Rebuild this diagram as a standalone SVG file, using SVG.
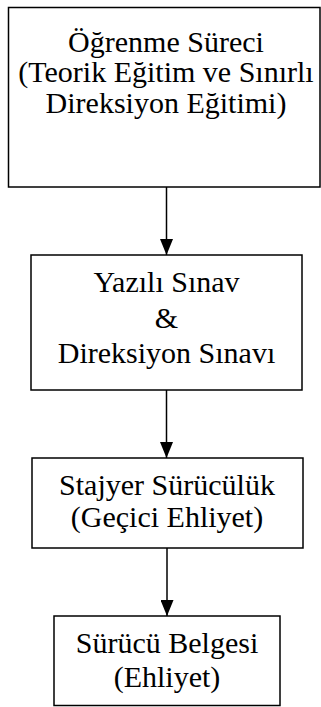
<svg xmlns="http://www.w3.org/2000/svg" width="321" height="707" viewBox="0 0 321 707">
  <style>
    .box { fill: #ffffff; stroke: #000000; stroke-width: 1.5; }
    .lbl { font-family: "Liberation Serif", "Times New Roman", serif; font-size: 30px; fill: #000000; text-anchor: middle; }
    .edge { stroke: #000000; stroke-width: 1.5; fill: none; marker-end: url(#head); }
  </style>
  <defs>
    <marker id="head" markerUnits="userSpaceOnUse" markerWidth="16" markerHeight="13" refX="16" refY="6.5" orient="auto">
      <path d="M0,0 L16,6.5 L0,13 Z" fill="#000000"/>
    </marker>
  </defs>
  <rect width="321" height="707" fill="#ffffff"/>

  <g id="connectors">
    <line class="edge" x1="166.5" y1="187" x2="166.5" y2="255"/>
    <line class="edge" x1="166.5" y1="390" x2="166.5" y2="458"/>
    <line class="edge" x1="167" y1="548" x2="167" y2="616"/>
  </g>

  <g id="ogrenme">
    <rect class="box" x="8.5" y="7.5" width="311.5" height="179.5"/>
    <text class="lbl" x="166" y="52">Öğrenme Süreci</text>
    <text class="lbl" x="166" y="82">(Teorik Eğitim ve Sınırlı</text>
    <text class="lbl" x="166" y="113">Direksiyon Eğitimi)</text>
  </g>

  <g id="sinav">
    <rect class="box" x="31" y="255" width="271" height="135"/>
    <text class="lbl" x="166.5" y="292">Yazılı Sınav</text>
    <text class="lbl" x="166.5" y="328">&amp;</text>
    <text class="lbl" x="166.5" y="363">Direksiyon Sınavı</text>
  </g>

  <g id="stajyer">
    <rect class="box" x="32" y="458" width="271" height="90"/>
    <text class="lbl" x="167" y="495">Stajyer Sürücülük</text>
    <text class="lbl" x="167" y="527">(Geçici Ehliyet)</text>
  </g>

  <g id="belge">
    <rect class="box" x="54" y="616" width="226" height="89.5"/>
    <text class="lbl" x="167" y="653">Sürücü Belgesi</text>
    <text class="lbl" x="167" y="687">(Ehliyet)</text>
  </g>
</svg>
